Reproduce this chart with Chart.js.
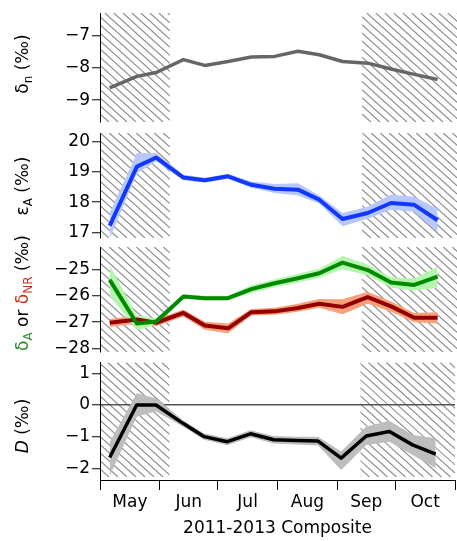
<!DOCTYPE html>
<html>
<head>
<meta charset="utf-8">
<script src="https://cdn.jsdelivr.net/npm/chart.js@4.4.1/dist/chart.umd.min.js"></script>
<style>
  html, body { margin: 0; padding: 0; background: #fff; }
  #wrap { position: relative; width: 457px; height: 541px; }
  #wrap canvas { position: absolute; left: 0; top: 0; }
</style>
</head>
<body>
<div id="wrap">
  <canvas id="pN" width="457" height="541"></canvas>
  <canvas id="pE" width="457" height="541"></canvas>
  <canvas id="pD" width="457" height="541"></canvas>
  <canvas id="pX" width="457" height="541"></canvas>
</div>
<script>
// Sampling days, counted from 1 May (2011-2013 composite season)
const sampleDays = [5, 19, 29, 43, 54, 66, 78, 90, 102, 113, 125, 138, 150, 162, 174];

// Month boundaries (days from 1 May) and month names
const monthStarts = [0, 31, 61, 92, 123, 153, 184];
const monthNames = ['May', 'Jun', 'Jul', 'Aug', 'Sep', 'Oct'];

// Shoulder periods shown with hatching (days from 1 May)
const hatchPeriods = [[0, 36], [135, 184]];

// δn (‰)
const deltaN = [-8.62, -8.26, -8.14, -7.74, -7.92, -7.80, -7.66, -7.64, -7.48, -7.59, -7.80, -7.85, -8.03, -8.20, -8.36];

// εA (‰) with uncertainty envelope
const epsA      = [17.22, 19.17, 19.47, 18.81, 18.72, 18.85, 18.57, 18.44, 18.41, 18.08, 17.44, 17.64, 17.97, 17.91, 17.40];
const epsAHigh  = [17.65, 19.62, 19.62, 18.90, 18.80, 18.93, 18.68, 18.60, 18.62, 18.22, 17.64, 17.85, 18.25, 18.18, 17.78];
const epsALow   = [16.80, 18.95, 19.35, 18.72, 18.64, 18.77, 18.47, 18.30, 18.22, 17.95, 17.20, 17.45, 17.75, 17.68, 17.00];

// δA (‰) with uncertainty envelope
const deltaA     = [-25.40, -27.05, -26.97, -26.03, -26.09, -26.09, -25.75, -25.53, -25.34, -25.15, -24.75, -25.03, -25.50, -25.59, -25.28];
const deltaAHigh = [-24.85, -26.75, -26.85, -25.95, -26.00, -26.00, -25.60, -25.38, -25.17, -24.98, -24.50, -24.83, -25.30, -25.35, -24.90];
const deltaALow  = [-26.00, -27.30, -27.10, -26.11, -26.17, -26.17, -25.90, -25.68, -25.50, -25.32, -25.00, -25.23, -25.70, -25.80, -25.70];

// δNR (‰) with uncertainty envelope
const deltaNR     = [-27.02, -26.90, -27.02, -26.65, -27.12, -27.23, -26.62, -26.59, -26.46, -26.30, -26.42, -26.05, -26.40, -26.83, -26.83];
const deltaNRHigh = [-26.88, -26.75, -26.90, -26.52, -26.98, -27.05, -26.50, -26.45, -26.30, -26.12, -26.13, -25.85, -26.22, -26.65, -26.62];
const deltaNRLow  = [-27.18, -27.05, -27.15, -26.78, -27.28, -27.42, -26.75, -26.72, -26.60, -26.45, -26.70, -26.30, -26.60, -27.00, -27.05];

// D (‰) with uncertainty envelope
const dValues = [-1.66, 0.00, 0.00, -0.58, -1.00, -1.16, -0.91, -1.10, -1.12, -1.14, -1.68, -0.98, -0.84, -1.26, -1.55];
const dHigh   = [-1.18, 0.37, 0.21, -0.48, -0.90, -1.05, -0.80, -0.98, -1.00, -1.00, -1.47, -0.68, -0.50, -0.95, -1.05];
const dLow    = [-2.25, -0.37, -0.21, -0.68, -1.10, -1.27, -1.02, -1.22, -1.25, -1.28, -2.05, -1.26, -1.16, -1.58, -2.00];

// Y tick values per panel
const ticksN = [-9, -8, -7];
const ticksE = [17, 18, 19, 20];
const ticksD = [-28, -27, -26, -25];
const ticksX = [-2, -1, 0, 1];

const xTitle = '2011-2013 Composite';

const FONT = '"DejaVu Sans", "Liberation Sans", sans-serif';
Chart.defaults.font.family = FONT;
Chart.defaults.font.size = 17;
Chart.defaults.color = '#000';

const pts = vals => vals.map((v, i) => ({ x: sampleDays[i], y: v }));
const fmt = v => (v < 0 ? '\u2212' + Math.abs(v) : String(v));
const monthMids = monthNames.map((_, i) => (monthStarts[i] + monthStarts[i + 1]) / 2);

// Diagonal hatching over the shoulder periods
function hatchPlugin(bottomInset) {
  return {
    id: 'hatch',
    beforeDraw(chart) {
      const { ctx, chartArea: a, scales: { x } } = chart;
      const top = a.top, bottom = a.bottom - bottomInset;
      const h = bottom - top, slope = 0.9, gap = 9;
      ctx.save();
      ctx.strokeStyle = '#8a8a8a';
      ctx.lineWidth = 1.1;
      hatchPeriods.forEach(([d0, d1]) => {
        const x0 = x.getPixelForValue(d0), x1 = x.getPixelForValue(d1);
        ctx.save();
        ctx.beginPath();
        ctx.rect(x0, top, x1 - x0, h);
        ctx.clip();
        ctx.beginPath();
        for (let sx = x0 - h / slope - gap; sx < x1 + gap; sx += gap) {
          ctx.moveTo(sx, top);
          ctx.lineTo(sx + h / slope, bottom);
        }
        ctx.stroke();
        ctx.restore();
      });
      ctx.restore();
    }
  };
}

// Rotated y-axis title built from styled pieces (subscripts, colours, italics)
function axisTitlePlugin(parts, cx, cy) {
  return {
    id: 'axisTitle',
    afterDraw(chart) {
      const ctx = chart.ctx;
      const fontFor = p => `${p.italic ? 'italic ' : ''}${p.sub ? 12 : 17}px ${FONT}`;
      ctx.save();
      ctx.translate(cx, cy);
      ctx.rotate(-Math.PI / 2);
      ctx.textBaseline = 'middle';
      ctx.textAlign = 'left';
      let total = 0;
      parts.forEach(p => { ctx.font = fontFor(p); total += ctx.measureText(p.text).width; });
      let pos = -total / 2;
      parts.forEach(p => {
        ctx.font = fontFor(p);
        ctx.fillStyle = p.color || '#000';
        ctx.fillText(p.text, pos, p.sub ? 5 : 0);
        pos += ctx.measureText(p.text).width;
      });
      ctx.restore();
    }
  };
}

function buildPanel(id, spec) {
  const datasets = [];
  spec.lines.forEach(l => datasets.push({
    data: pts(l.values), borderColor: l.color, borderWidth: l.width,
    pointRadius: 0, tension: 0, fill: false, borderJoinStyle: 'round'
  }));
  (spec.bands || []).forEach(b => {
    datasets.push({ data: pts(b.high), borderColor: 'transparent', borderWidth: 0, pointRadius: 0,
                    backgroundColor: b.color, fill: '+1', tension: 0 });
    datasets.push({ data: pts(b.low), borderColor: 'transparent', borderWidth: 0, pointRadius: 0,
                    fill: false, tension: 0 });
  });

  const yTicks = spec.yTicks;
  const xScale = spec.showX ? {
    type: 'linear', min: 0, max: 184, bounds: 'data', position: 'bottom',
    afterBuildTicks: s => { s.ticks = monthStarts.concat(monthMids).sort((a, b) => a - b).map(v => ({ value: v })); },
    afterFit: s => { s.height = 541 - spec.bottom; },
    ticks: {
      autoSkip: false, maxRotation: 0, minRotation: 0, padding: 2, color: '#000',
      callback: v => { const i = monthMids.indexOf(v); return i >= 0 ? monthNames[i] : ''; }
    },
    grid: {
      drawOnChartArea: false, tickLength: 10, tickWidth: 1,
      tickColor: c => (c.tick && monthStarts.includes(c.tick.value)) ? '#000' : 'rgba(0,0,0,0)'
    },
    border: { color: '#000', width: 1 },
    title: { display: true, text: xTitle, color: '#000', font: { size: 17 }, padding: { top: 2, bottom: 2 } }
  } : { type: 'linear', min: 0, max: 184, bounds: 'data', display: false };

  return new Chart(document.getElementById(id), {
    type: 'line',
    data: { datasets },
    options: {
      responsive: false, animation: false, events: [],
      layout: { padding: { top: spec.top, bottom: spec.showX ? 0 : 541 - spec.bottom, left: 0, right: 0 } },
      plugins: { legend: { display: false }, tooltip: { enabled: false } },
      scales: {
        x: xScale,
        y: {
          type: 'linear', min: spec.yMin, max: spec.yMax, bounds: 'data',
          afterFit: s => { s.width = 100; },
          afterBuildTicks: s => { s.ticks = yTicks.map(v => ({ value: v })); },
          ticks: { color: '#000', padding: 2, autoSkip: false, callback: v => fmt(v) },
          grid: {
            drawOnChartArea: !!spec.zeroLine, tickLength: 8, tickWidth: 1, tickColor: '#000', lineWidth: 1.5,
            color: c => (spec.zeroLine && c.tick && c.tick.value === 0) ? '#555' : 'rgba(0,0,0,0)'
          },
          border: { color: '#000', width: 1 }
        }
      }
    },
    plugins: [hatchPlugin(spec.hatchInset || 0), axisTitlePlugin(spec.title, spec.titleX, spec.titleY)]
  });
}

buildPanel('pN', {
  top: 13, bottom: 122, yMin: -9.68, yMax: -6.29, yTicks: ticksN,
  lines: [{ values: deltaN, color: '#666666', width: 3.5 }],
  title: [{ text: 'δ' }, { text: 'n', sub: true }, { text: ' (‰)' }], titleX: 24, titleY: 64
});

buildPanel('pE', {
  top: 133, bottom: 238, yMin: 16.815, yMax: 20.28, yTicks: ticksE,
  lines: [{ values: epsA, color: '#1238ff', width: 4 }],
  bands: [{ high: epsAHigh, low: epsALow, color: '#b7c8ff' }],
  title: [{ text: 'ε' }, { text: 'A', sub: true }, { text: ' (‰)' }], titleX: 24, titleY: 186
});

buildPanel('pD', {
  top: 247, bottom: 352, yMin: -28.125, yMax: -24.158, yTicks: ticksD,
  lines: [
    { values: deltaA, color: '#008a00', width: 4 },
    { values: deltaNR, color: '#940000', width: 4 }
  ],
  bands: [
    { high: deltaAHigh, low: deltaALow, color: '#b6f5b0' },
    { high: deltaNRHigh, low: deltaNRLow, color: '#f6a07c' }
  ],
  title: [
    { text: 'δ', color: '#2a8a2a' }, { text: 'A', sub: true, color: '#2a8a2a' },
    { text: ' or ' },
    { text: 'δ', color: '#c83216' }, { text: 'NR', sub: true, color: '#c83216' },
    { text: ' (‰)' }
  ], titleX: 24, titleY: 293
});

buildPanel('pX', {
  top: 362.5, bottom: 480, hatchInset: 3, yMin: -2.369, yMax: 1.341, yTicks: ticksX, showX: true, zeroLine: true,
  lines: [{ values: dValues, color: '#000000', width: 3.5 }],
  bands: [{ high: dHigh, low: dLow, color: '#bdbdbd' }],
  title: [{ text: 'D', italic: true }, { text: ' (‰)' }], titleX: 24, titleY: 426
});
</script>
</body>
</html>
